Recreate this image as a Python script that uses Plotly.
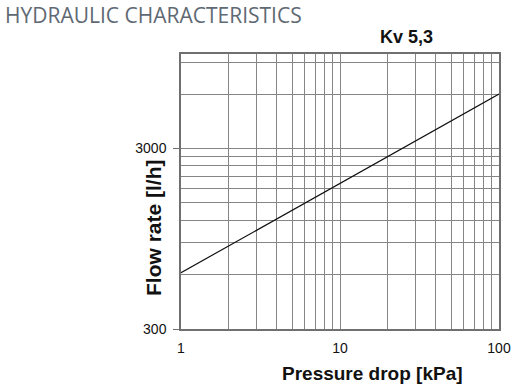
import plotly.graph_objects as go

# Data
pressure_drop_kpa = [1, 10, 100]
flow_rate_lh = [615, 1920, 6000]

x_major = [1, 10, 100]
x_major_labels = ["1", "10", "100"]
x_minor = [2, 3, 4, 5, 6, 7, 8, 9, 20, 30, 40, 50, 60, 70, 80, 90]
y_major = [300, 3000]
y_major_labels = ["300", "3000"]
y_minor = [600, 900, 1200, 1500, 1800, 2100, 2400, 2700, 6000, 9000]

L, R, T, B = 181, 18, 54, 60
W, H = 517, 389
pw, ph = W - L - R, H - T - B

def px_x(x):
    return (x - L) / pw

def px_y(y):
    return (H - B - y) / ph

fig = go.Figure()
fig.add_trace(go.Scatter(x=pressure_drop_kpa, y=flow_rate_lh, mode="lines",
                         line=dict(color="#111111", width=1.2), showlegend=False))

grid = "#858585"
fig.update_xaxes(type="log", range=[0, 2], tickmode="array", tickvals=x_major,
                 ticktext=x_major_labels, showgrid=True, gridcolor=grid, gridwidth=1,
                 ticks="", showline=True, linecolor="#707070", linewidth=1.5, mirror=True,
                 zeroline=False, ticklabelstandoff=5, automargin=False,
                 tickfont=dict(family="Liberation Sans, Arial", size=14, color="#111"),
                 minor=dict(tickmode="array", tickvals=x_minor, showgrid=True,
                            gridcolor=grid, gridwidth=1, ticks=""))
fig.update_yaxes(type="log", range=[2.4771, 4], tickmode="array", tickvals=y_major,
                 ticktext=y_major_labels, showgrid=True, gridcolor=grid, gridwidth=1,
                 ticks="outside", ticklen=6, tickcolor="#707070", showline=True,
                 linecolor="#707070", linewidth=1.5, mirror=True, zeroline=False,
                 ticklabelstandoff=4, automargin=False,
                 tickfont=dict(family="Liberation Sans, Arial", size=14, color="#111"),
                 minor=dict(tickmode="array", tickvals=y_minor, showgrid=True,
                            gridcolor=grid, gridwidth=1, ticks=""))

fig.update_layout(
    width=W, height=H, autosize=False,
    margin=dict(l=L, r=R, t=T, b=B, pad=0, autoexpand=False),
    paper_bgcolor="white", plot_bgcolor="white",
    annotations=[
        dict(text="HYDRAULIC CHARACTERISTICS", xref="paper", yref="paper",
             x=px_x(3), y=px_y(-1), xanchor="left", yanchor="top", showarrow=False,
             font=dict(family="Open Sans", size=21, color="#5f6973")),
        dict(text="<b>Kv 5,3</b>", xref="paper", yref="paper",
             x=px_x(406), y=px_y(37), xanchor="center", yanchor="middle", showarrow=False,
             font=dict(family="Liberation Sans, Arial", size=18, color="#111")),
        dict(text="<b>Pressure drop [kPa]</b>", xref="paper", yref="paper",
             x=px_x(372), y=px_y(373), xanchor="center", yanchor="middle", showarrow=False,
             font=dict(family="Liberation Sans, Arial", size=19, color="#111")),
        dict(text="<b>Flow rate [l/h]</b>", xref="paper", yref="paper",
             x=px_x(153), y=px_y(228), xanchor="center", yanchor="middle", showarrow=False,
             textangle=-90,
             font=dict(family="Liberation Sans, Arial", size=21, color="#111")),
    ],
)

fig.write_html("out.html", config={"displayModeBar": False},
               post_script="document.body.style.margin='0';document.body.style.overflow='hidden';")
